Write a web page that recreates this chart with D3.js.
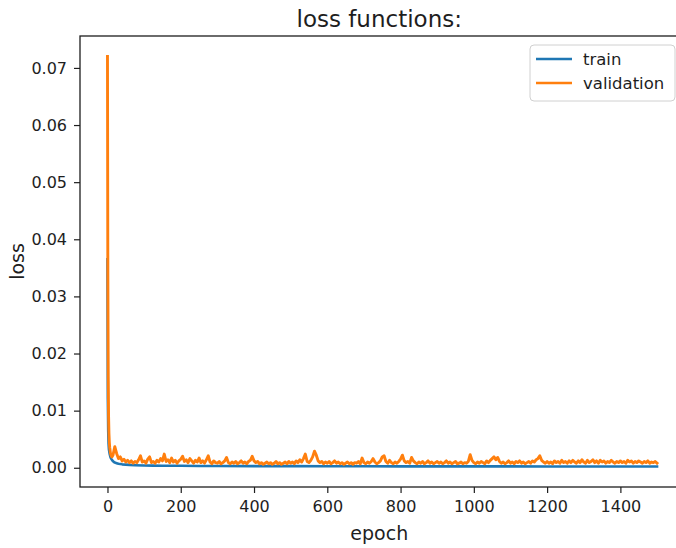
<!DOCTYPE html>
<html>
<head>
<meta charset="utf-8">
<script src="https://cdn.jsdelivr.net/npm/d3@7"></script>
<style>
  html, body { margin: 0; padding: 0; background: #fff; }
  svg { display: block; font-family: "DejaVu Sans", sans-serif; }
</style>
</head>
<body>
<svg id="chart" width="676" height="548"></svg>
<script>
// ---- data ----
const trainEpochs = [0,1,2,3,4,6,8,10,13,16,20,25,30,40,50,60,75,100,125,150,200,250,300,400,500,600,700,800,900,1000,1100,1200,1300,1400,1500];
const trainLoss   = [0.0365,0.012,0.0065,0.0042,0.0032,0.0024,0.0019,0.0016,0.0013,0.0011,0.0009,0.0008,0.0007,0.0006,0.00055,0.0005,0.00045,0.0004,0.00038,0.00036,0.00034,0.00032,0.0003,0.00029,0.00028,0.00027,0.00026,0.00025,0.00025,0.00024,0.00024,0.00023,0.00023,0.00022,0.00022];

const valEarlyEpochs = [0,1,2,3,4,5,6,8,10,12];
const valEarlyLoss   = [0.072,0.034,0.016,0.009,0.006,0.0045,0.0036,0.0026,0.0021,0.0019];
// validation loss sampled every 5 epochs from epoch 15 to 1500
const valStart = 15, valStep = 5;
const valLoss = [
  0.0022,0.0037,0.0025,0.0016,0.0019,0.0012,0.0015,0.0010,0.0013,0.0009,0.0012,0.0008,0.0011,0.0009,0.0014,0.0021,0.0010,
  0.0012,0.0008,0.0015,0.0019,0.0009,0.0011,0.0008,0.0013,0.0010,0.0016,0.0012,0.0024,0.0011,0.0014,0.0009,0.0017,0.0010,0.0013,0.0008,0.0012,
  0.0015,0.0020,0.0011,0.0014,0.0009,0.0016,0.0012,0.0008,0.0013,0.0010,0.0017,0.0009,0.0012,0.0008,0.0014,0.0021,0.0010,0.0007,0.0012,0.0009,
  0.0008,0.0011,0.0007,0.0009,0.0012,0.0018,0.0009,0.0007,0.0010,0.0008,0.0011,0.0007,0.0009,0.0012,0.0008,0.0010,0.0007,0.0011,0.0013,0.0020,
  0.0012,0.0009,0.0011,0.0007,0.0009,0.0006,0.0008,0.0010,0.0007,0.0009,0.0006,0.0008,0.0011,0.0007,0.0009,0.0006,0.0008,0.0010,0.0007,0.0011,
  0.0008,0.0010,0.0007,0.0012,0.0009,0.0014,0.0010,0.0016,0.0024,0.0011,0.0009,0.0013,0.0019,0.0029,0.0022,0.0012,0.0009,0.0011,0.0007,0.0010,
  0.0008,0.0011,0.0007,0.0009,0.0012,0.0008,0.0010,0.0007,0.0009,0.0006,0.0008,0.0010,0.0007,0.0009,0.0006,0.0009,0.0008,0.0011,0.0007,0.0017,
  0.0009,0.0007,0.0010,0.0008,0.0011,0.0016,0.0010,0.0007,0.0009,0.0012,0.0019,0.0021,0.0011,0.0008,0.0013,0.0009,0.0007,0.0010,0.0008,0.0011,
  0.0015,0.0022,0.0012,0.0009,0.0011,0.0008,0.0018,0.0012,0.0009,0.0007,0.0010,0.0008,0.0011,0.0007,0.0009,0.0012,0.0008,0.0010,0.0007,0.0009,
  0.0011,0.0008,0.0010,0.0007,0.0009,0.0012,0.0008,0.0010,0.0007,0.0009,0.0011,0.0007,0.0008,0.0010,0.0007,0.0009,0.0008,0.0011,0.0023,0.0013,
  0.0009,0.0007,0.0010,0.0008,0.0011,0.0009,0.0007,0.0012,0.0009,0.0013,0.0016,0.0019,0.0014,0.0018,0.0011,0.0008,0.0010,0.0007,0.0009,0.0012,
  0.0008,0.0010,0.0007,0.0011,0.0009,0.0012,0.0008,0.0010,0.0007,0.0009,0.0011,0.0008,0.0012,0.0010,0.0014,0.0016,0.0021,0.0013,0.0010,0.0008,
  0.0011,0.0008,0.0010,0.0007,0.0012,0.0009,0.0011,0.0008,0.0013,0.0009,0.0011,0.0008,0.0012,0.0009,0.0013,0.0010,0.0008,0.0012,0.0009,0.0014,
  0.0010,0.0008,0.0013,0.0009,0.0011,0.0014,0.0009,0.0012,0.0008,0.0013,0.0010,0.0012,0.0008,0.0011,0.0009,0.0013,0.0010,0.0008,0.0011,0.0009,
  0.0012,0.0009,0.0011,0.0008,0.0013,0.0010,0.0012,0.0008,0.0011,0.0009,0.0012,0.0010,0.0008,0.0011,0.0009,0.0012,0.0008,0.0010,0.0009,0.0011,
  0.0008
];
const xTicks = [0,200,400,600,800,1000,1200,1400];
const yTicks = [0.00,0.01,0.02,0.03,0.04,0.05,0.06,0.07];
const seriesNames = ["train","validation"];
const seriesColors = ["#1f77b4","#ff7f0e"];
const titleText = "loss functions:";
const xLabel = "epoch";
const yLabel = "loss";

// ---- build series ----
const train = trainEpochs.map((e,i)=>({x:e, y:trainLoss[i]}));
const validation = valEarlyEpochs.map((e,i)=>({x:e, y:valEarlyLoss[i]}))
  .concat(valLoss.map((v,i)=>({x:valStart + i*valStep, y:v})));

// ---- layout ----
const svg = d3.select("#chart");
const L = 80, R = 684.5, T = 36, B = 487;
const ink = "#1e1e1e";

const allX = train.concat(validation).map(d=>d.x);
const allY = train.concat(validation).map(d=>d.y);
const [x0,x1] = d3.extent(allX), [y0,y1] = d3.extent(allY);
const xPad = (x1-x0)*0.05, yPad = (y1-y0)*0.05;

const x = d3.scaleLinear().domain([x0-xPad, x1+xPad]).range([L, R]);
const y = d3.scaleLinear().domain([y0-yPad, y1+yPad]).range([B, T]);

svg.append("defs").append("clipPath").attr("id","clip")
  .append("rect").attr("x",L).attr("y",T).attr("width",R-L).attr("height",B-T);

const line = d3.line().x(d=>x(d.x)).y(d=>y(d.y));
const g = svg.append("g").attr("clip-path","url(#clip)");
const widths = [2.6, 2.9];
[train, validation].forEach((s,i)=>{
  g.append("path").datum(s).attr("d",line)
    .attr("fill","none").attr("stroke",seriesColors[i])
    .attr("stroke-width",widths[i]).attr("stroke-linejoin","round").attr("stroke-linecap","square");
});

// axes
const xAxis = d3.axisBottom(x).tickValues(xTicks).tickFormat(d3.format("d")).tickSize(6).tickPadding(8);
const yAxis = d3.axisLeft(y).tickValues(yTicks).tickFormat(d3.format(".2f")).tickSize(6).tickPadding(7);

const gx = svg.append("g").attr("transform",`translate(0,${B})`).call(xAxis);
const gy = svg.append("g").attr("transform",`translate(${L},0)`).call(yAxis);
[gx,gy].forEach(a=>{
  a.select(".domain").remove();
  a.selectAll(".tick line").attr("stroke",ink).attr("stroke-width",1.2);
  a.selectAll(".tick text").attr("fill",ink).style("font-size","16px").style("font-family","DejaVu Sans");
});

// frame
svg.append("rect").attr("x",L).attr("y",T).attr("width",R-L).attr("height",B-T)
  .attr("fill","none").attr("stroke",ink).attr("stroke-width",1.3);

// title and labels
svg.append("text").attr("x",(L+R)/2 - 3).attr("y",27).attr("text-anchor","middle")
  .attr("fill",ink).style("font-size","23px").text(titleText);
svg.append("text").attr("x",(L+R)/2 - 3).attr("y",540).attr("text-anchor","middle")
  .attr("fill",ink).style("font-size","19px").text(xLabel);
svg.append("text").attr("transform",`translate(24,${(T+B)/2}) rotate(-90)`).attr("text-anchor","middle")
  .attr("fill",ink).style("font-size","19px").text(yLabel);

// legend
const lg = svg.append("g");
lg.append("rect").attr("x",530).attr("y",45).attr("width",145).attr("height",56)
  .attr("rx",4).attr("fill","#fff").attr("fill-opacity",0.85).attr("stroke","#d0d0d0").attr("stroke-width",1);
seriesNames.forEach((n,i)=>{
  const yy = 59 + i*24;
  lg.append("line").attr("x1",536).attr("x2",572).attr("y1",yy).attr("y2",yy)
    .attr("stroke",seriesColors[i]).attr("stroke-width",2.6);
  lg.append("text").attr("x",583).attr("y",yy+6).attr("fill",ink)
    .style("font-size","16.5px").text(n);
});
</script>
</body>
</html>
